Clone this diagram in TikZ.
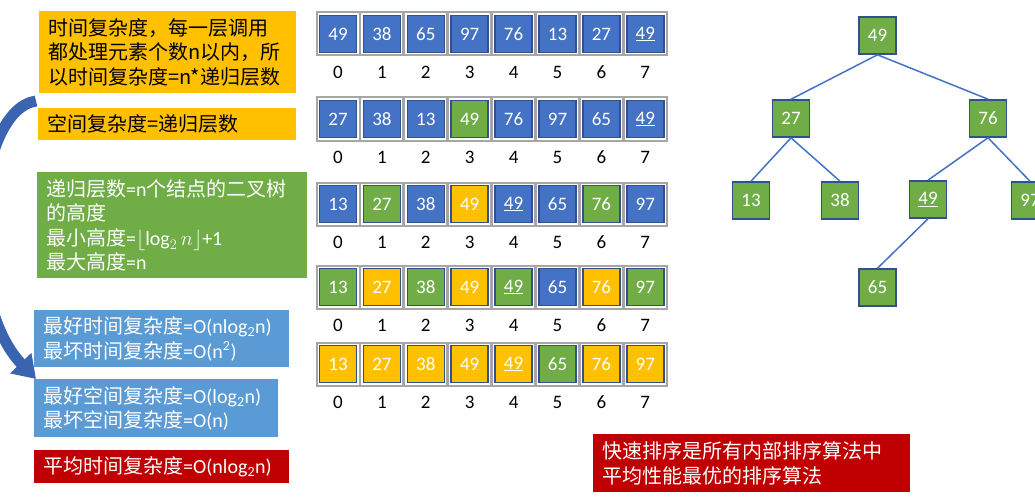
\documentclass[tikz,border=0pt]{standalone}
\usepackage{fontspec}
\setmainfont{Carlito}
\newfontfamily\cjk{Noto Sans CJK SC}
\usetikzlibrary{arrows.meta}

\definecolor{cblue}{HTML}{4472C4}
\definecolor{cgreen}{HTML}{70AD47}
\definecolor{cgold}{HTML}{FFC000}
\definecolor{cred}{HTML}{C00000}
\definecolor{clight}{HTML}{5B9BD5}
\definecolor{cellborder}{HTML}{2F528F}
\definecolor{framegray}{HTML}{A6A6A6}
\definecolor{arrowblue}{HTML}{3A63B0}

\tikzset{
  frame/.style={draw=framegray, line width=2pt, minimum size=43pt, inner sep=0pt},
  cell/.style={draw=cellborder, line width=1.6pt, minimum size=37pt, inner sep=0pt,
    text=white, font=\fontsize{19}{22}\selectfont},
  idx/.style={font=\fontsize{19}{22}\selectfont},
  tnode/.style={cell, fill=cgreen},
  tedge/.style={draw=cblue, line width=1.5pt},
  note/.style={anchor=north west, inner xsep=9pt, inner ysep=0pt, align=left,
    font=\fontsize{20}{24.5}\selectfont},
  bendarrow/.style={draw=arrowblue, line width=11pt, -{Triangle[length=22pt,width=28pt]}},
}

% one row of the array: name, y, list of value/colour
\newcommand{\sortrow}[3]{%
  \foreach \val/\col [count=\i from 0] in {#3} {
    \node[frame] (#1f\i) at (338+43.9*\i,#2) {};
    \node[cell, fill=\col] (#1c\i) at (338+43.9*\i,#2) {\val};
    \node[idx] (#1i\i) at (338+43.9*\i,#2+38.5) {\i};
  }%
}

\begin{document}
\begin{tikzpicture}[x=1pt, y=-1pt]
  \useasboundingbox[fill=white] (0,0) rectangle (1035,500);

  % curved arrow on the left
  \draw[bendarrow] (36,101) .. controls (-25,110) and (-40,300) .. (36,379);

  % notes
  \node[note, fill=cgold, text width=239pt, minimum height=82pt] (timenote) at (39,11)
    {\cjk 时间复杂度，每一层调用\\都处理元素个数n以内，所\\以时间复杂度=n*递归层数};
  \node[note, fill=cgold, text width=240pt, minimum height=32pt] (spacenote) at (38,108)
    {\cjk 空间复杂度=递归层数};
  \node[note, fill=cgreen, text=white, text width=252pt, minimum height=106pt] (depthnote) at (37,172)
    {{\cjk 递归层数}=n{\cjk 个结点的二叉树}\\{\cjk 的高度}\\
     {\cjk 最小高度}=$\lfloor\log_2 n\rfloor$+1\\{\cjk 最大高度}=n};
  \node[note, fill=clight, text=white, text width=237pt, minimum height=57pt] (besttime) at (34,310)
    {{\cjk 最好时间复杂度}=O(nlog\textsubscript{2}n)\\{\cjk 最坏时间复杂度}=O(n\textsuperscript{2})};
  \node[note, fill=clight, text=white, text width=226pt, minimum height=58pt] (bestspace) at (34,379)
    {{\cjk 最好空间复杂度}=O(log\textsubscript{2}n)\\{\cjk 最坏空间复杂度}=O(n)};
  \node[note, fill=cred, text=white, text width=237pt, minimum height=33pt] (avgtime) at (34,450)
    {{\cjk 平均时间复杂度}=O(nlog\textsubscript{2}n)};
  \node[note, fill=cred, text=white, text width=299pt, minimum height=58pt] (quicknote) at (593,434)
    {\cjk 快速排序是所有内部排序算法中\\平均性能最优的排序算法};

  % the array after each pass
  \sortrow{ra}{34}{49/cblue, 38/cblue, 65/cblue, 97/cblue, 76/cblue, 13/cblue, 27/cblue, {\underline{49}}/cblue}
  \sortrow{rb}{119}{27/cblue, 38/cblue, 13/cblue, 49/cgreen, 76/cblue, 97/cblue, 65/cblue, {\underline{49}}/cblue}
  \sortrow{rc}{204}{13/cblue, 27/cgreen, 38/cblue, 49/cgold, {\underline{49}}/cblue, 65/cblue, 76/cgreen, 97/cblue}
  \sortrow{rd}{287}{13/cgreen, 27/cgold, 38/cgreen, 49/cgold, {\underline{49}}/cgreen, 65/cblue, 76/cgold, 97/cgreen}
  \sortrow{re}{364}{13/cgold, 27/cgold, 38/cgold, 49/cgold, {\underline{49}}/cgold, 65/cgreen, 76/cgold, 97/cgold}

  % recursion tree
  \node[tnode] (t49) at (877.5,35.5) {49};
  \node[tnode] (t27) at (791,118.5) {27};
  \node[tnode] (t76) at (988,118.5) {76};
  \node[tnode] (t13) at (751,200.5) {13};
  \node[tnode] (t38) at (840,200.5) {38};
  \node[tnode] (t49b) at (928,199.5) {\underline{49}};
  \node[tnode] (t97) at (1030,200.5) {97};
  \node[tnode] (t65) at (877.5,287.5) {65};

  \draw[tedge] (t49.south) -- (t27.north);
  \draw[tedge] (t49.south) -- (t76.north);
  \draw[tedge] (t27.south) -- (t13.north);
  \draw[tedge] (t27.south) -- (t38.north);
  \draw[tedge] (t76.south) -- (t49b.north);
  \draw[tedge] (t76.south) -- (t97.north);
  \draw[tedge] (t49b.south) -- (t65.north);
\end{tikzpicture}
\end{document}
